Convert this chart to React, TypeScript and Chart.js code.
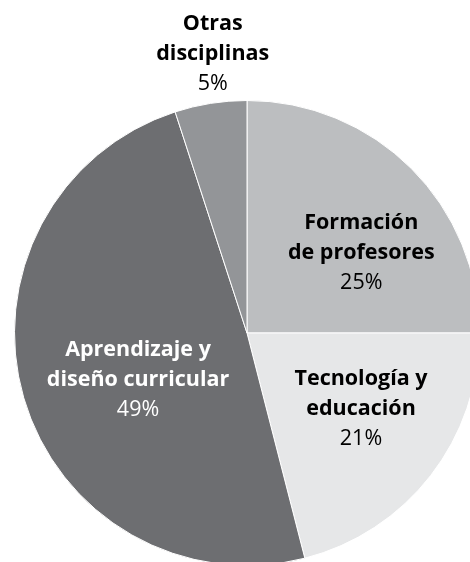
import React, { useEffect, useRef } from "react";
import { Chart, registerables } from "chart.js";

Chart.register(...registerables);

const categories = ["Formación de profesores", "Tecnología y educación", "Aprendizaje y diseño curricular", "Otras disciplinas"];
const labelLines = [["Formación", "de profesores"], ["Tecnología y", "educación"], ["Aprendizaje y", "diseño curricular"], ["Otras", "disciplinas"]];
const values = [25, 21, 49, 5];
const colors = ["#bcbec0", "#e6e7e8", "#6d6e71", "#939598"];
const textColors = ["#000000", "#000000", "#ffffff", "#000000"];
// label placement: fraction of radius and angle shift (degrees) from slice middle
const placement = [
  { r: 0.6, da: 10 },
  { r: 0.59, da: -4 },
  { r: 0.51, da: -7 },
  { r: 1.21, da: 2 },
];

const labelPlugin = {
  id: "sliceLabels",
  afterDatasetsDraw(chart: any) {
    const ctx = chart.ctx;
    const meta = chart.getDatasetMeta(0);
    const lineH = 30;
    meta.data.forEach((arc: any, i: number) => {
      const { x, y, startAngle, endAngle, outerRadius } = arc.getProps(["x", "y", "startAngle", "endAngle", "outerRadius"], true);
      const mid = (startAngle + endAngle) / 2 + (placement[i].da * Math.PI) / 180;
      const r = outerRadius * placement[i].r;
      const cx = x + Math.cos(mid) * r;
      const cy = y + Math.sin(mid) * r;
      const lines = [...labelLines[i], values[i] + "%"];
      ctx.save();
      ctx.textAlign = "center";
      ctx.textBaseline = "middle";
      ctx.fillStyle = textColors[i];
      lines.forEach((t, k) => {
        ctx.font = (k < lines.length - 1 ? "bold " : "") + "21.5px 'Open Sans'";
        ctx.fillText(t, cx, cy + (k - (lines.length - 1) / 2) * lineH);
      });
      ctx.restore();
    });
  },
};

export default function App() {
  const ref = useRef<HTMLCanvasElement>(null);
  useEffect(() => {
    const chart = new Chart(ref.current!, {
      type: "pie",
      data: {
        labels: categories,
        datasets: [
          {
            data: values,
            backgroundColor: colors,
            borderColor: "#ffffff",
            borderWidth: 1,
          },
        ],
      },
      options: {
        responsive: false,
        animation: false,
        layout: { padding: { top: 100, left: 14, right: 0, bottom: 14 } },
        plugins: { legend: { display: false }, tooltip: { enabled: false } },
      },
      plugins: [labelPlugin],
    });
    return () => chart.destroy();
  }, []);
  return (
    <div style={{ position: "fixed", left: 0, top: 0, width: 470, height: 562, overflow: "hidden", background: "#fff" }}>
      <canvas ref={ref} width={480} height={580} style={{ position: "absolute", left: 0, top: 0, width: 480, height: 580 }} />
    </div>
  );
}
